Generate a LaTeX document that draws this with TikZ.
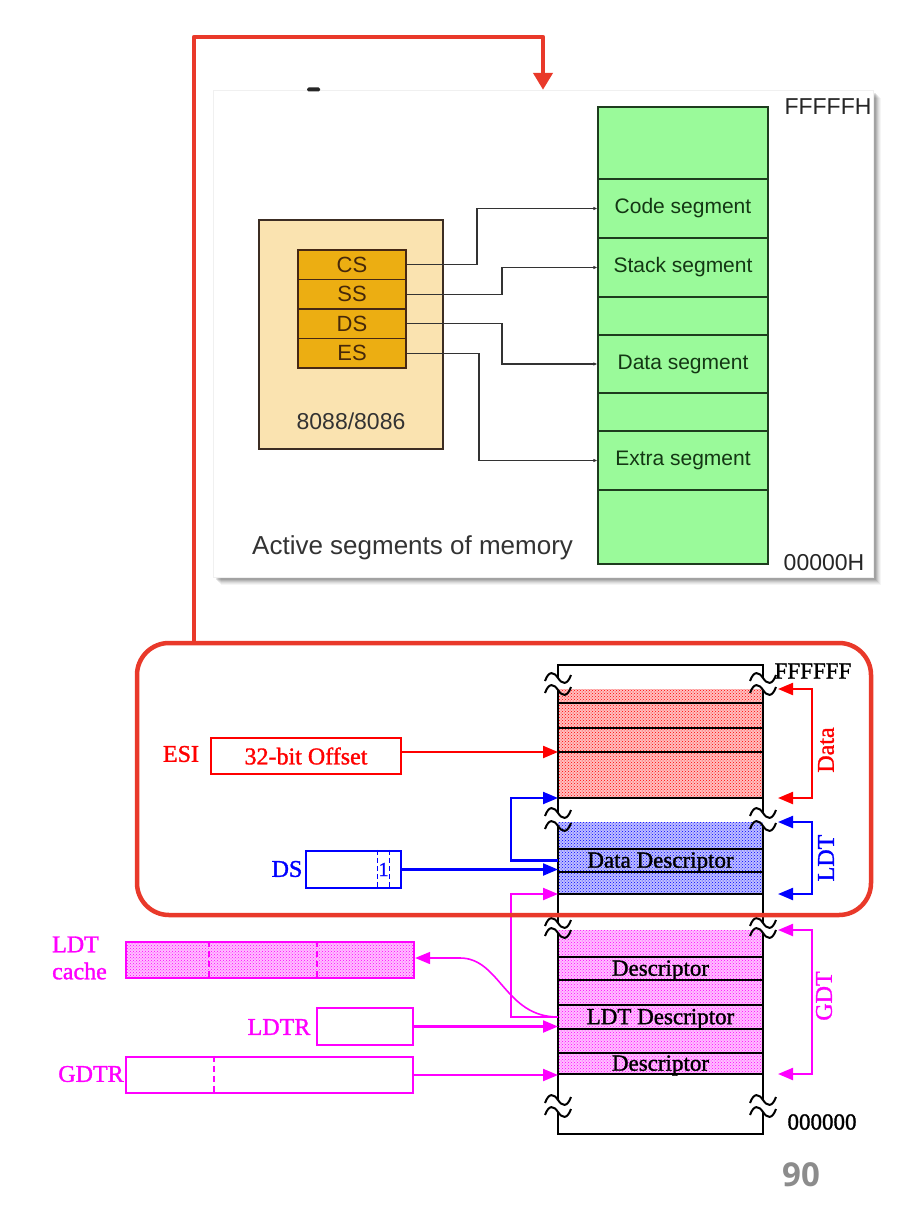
\documentclass[tikz,border=0pt]{standalone}
\usepackage{fontspec}
\setmainfont{Liberation Serif}[FakeBold=1.3]
\newfontfamily\arialf{Liberation Sans}
\newfontfamily\pagenumf{Open Sans}
\usetikzlibrary{arrows.meta,patterns,calc}
\definecolor{redA}{RGB}{233,57,42}
\definecolor{tanfill}{RGB}{250,227,176}
\definecolor{cpuborder}{RGB}{60,45,35}
\definecolor{regfill}{RGB}{236,174,18}
\definecolor{regborder}{RGB}{70,40,20}
\definecolor{regtext}{RGB}{70,40,10}
\definecolor{greenfill}{RGB}{154,250,154}
\definecolor{memborder}{RGB}{30,60,30}
\definecolor{greentext}{RGB}{20,55,20}
\definecolor{pRed}{RGB}{255,0,0}
\definecolor{pBlue}{RGB}{0,0,255}
\definecolor{pMag}{RGB}{255,0,255}
\tikzset{
  panel/.style={draw=black!6, fill=white, minimum width=660pt, minimum height=487pt, inner sep=0pt},
  cpubox/.style={draw=cpuborder, line width=1.2pt, fill=tanfill, minimum width=184pt, minimum height=229pt, inner sep=0pt},
  regbox/.style={draw=regborder, line width=1.3pt, fill=regfill, minimum width=108pt, minimum height=29.5pt, inner sep=0pt, text=regtext, font=\arialf\fontsize{22}{22}\selectfont},
  cputxt/.style={inner sep=0pt, text=black!80, font=\arialf\fontsize{23}{23}\selectfont},
  memg/.style={draw=memborder, line width=1.2pt, fill=greenfill, minimum width=170pt, inner sep=0pt, text=greentext, font=\arialf\fontsize{21}{21}\selectfont},
  segarrow/.style={draw=black!80, line width=1.1pt, -{Latex[length=4pt,width=3.5pt]}},
  toplbl/.style={text=black!85, font=\arialf\fontsize{23}{23}\selectfont, inner sep=0pt},
  captxt/.style={text=black!80, font=\arialf\fontsize{26}{26}\selectfont, inner sep=0pt},
  redconn/.style={draw=redA, line width=4.5pt, line join=round, -{Triangle[length=17pt,width=19pt]}},
  redframe/.style={draw=redA, line width=4.5pt, rounded corners=32pt, minimum width=734pt, minimum height=272pt, inner sep=0pt},
  memrow/.style={minimum width=205pt, inner sep=0pt, outer sep=0pt},
  redfill/.style={fill=pRed!25, postaction={pattern=crosshatch dots, pattern color=pRed}},
  bluefill/.style={fill=pBlue!25, postaction={pattern=crosshatch dots, pattern color=pBlue}},
  magfill/.style={fill=pMag!25, postaction={pattern=crosshatch dots, pattern color=pMag}},
  rowline/.style={draw=black, line width=2pt},
  colline/.style={draw=black, line width=2.4pt},
  memtxt/.style={inner sep=0pt, yshift=-2pt, font=\fontsize{23}{23}\selectfont},
  memlbl/.style={inner sep=0pt, font=\fontsize{23}{23}\selectfont},
  redlbl/.style={inner sep=0pt, text=pRed, font=\fontsize{24}{27}\selectfont},
  bluelbl/.style={inner sep=0pt, text=pBlue, font=\fontsize{24}{27}\selectfont},
  maglbl/.style={inner sep=0pt, text=pMag, font=\fontsize{24}{27}\selectfont},
  redbox/.style={draw=pRed, line width=2.2pt, inner sep=0pt, text=pRed, font=\fontsize{24}{24}\selectfont},
  bluebox/.style={draw=pBlue, line width=2.2pt, inner sep=0pt},
  magbox/.style={draw=pMag, line width=2.2pt, inner sep=0pt},
  redline/.style={draw=pRed, line width=2.2pt},
  blueline/.style={draw=pBlue, line width=2.2pt},
  magline/.style={draw=pMag, line width=2.2pt},
  tipR/.style={-{Triangle[length=15pt,width=12pt]}},
  tipLR/.style={{Triangle[length=15pt,width=12pt]}-{Triangle[length=15pt,width=12pt]}},
  brk/.pic={\draw[line width=2pt] (-13,3) .. controls (-9,-8) and (-4,-6) .. (0,0) .. controls (4,6) and (9,8) .. (13,-3);}
}
\begin{document}
\begin{tikzpicture}[x=1pt,y=-1pt]
\fill[white] (0,0) rectangle (912,1214);
\useasboundingbox (0,0) rectangle (912,1214);

% ---------- top panel ----------
\foreach \o/\a in {8/0.04,7/0.05,6/0.06,5/0.08,4/0.09,3/0.1} {\fill[black,opacity=\a] (213+\o,90+\o) rectangle (873+\o,577+\o);}
\node[panel] (panel) at (543,333.5) {};
\fill[black!85,rounded corners=1.5pt] (307,87.5) rectangle (320,91.5);

\node[cpubox] (cpu) at (351,334.5) {};
\node[regbox] (cs) at (352,264.75) {CS};
\node[regbox] (ss) at (352,294.25) {SS};
\node[regbox] (ds) at (352,323.75) {DS};
\node[regbox] (es) at (352,353.25) {ES};
\node[cputxt] (cpulbl) at (351,421) {8088/8086};

\node[memg, minimum height=72pt] (m0) at (683,143) {};
\node[memg, minimum height=59pt] (code) at (683,208.5) {Code segment};
\node[memg, minimum height=59pt] (stack) at (683,267.5) {Stack segment};
\node[memg, minimum height=38pt] (m3) at (683,316) {};
\node[memg, minimum height=58pt] (dataseg) at (683,364) {Data segment};
\node[memg, minimum height=38pt] (m5) at (683,412) {};
\node[memg, minimum height=59pt] (extra) at (683,460.5) {Extra segment};
\node[memg, minimum height=74pt] (m7) at (683,527) {};

\draw[segarrow] (cs.east) -- (477,264.75) |- (code.west);
\draw[segarrow] (ss.east) -- (502,294.25) |- (stack.west);
\draw[segarrow] (ds.east) -- (502,323.75) |- (dataseg.west);
\draw[segarrow] (es.east) -- (479,353.25) |- (extra.west);

\node[toplbl] (ftop) at (828,107) {FFFFFH};
\node[toplbl] (fbot) at (824,563) {00000H};
\node[captxt, anchor=west] (cap) at (252,548) {Active segments of memory};

% ---------- red connector ----------
\coordinate (rstart) at (194,643);
\coordinate (rturn) at (194,37);
\draw[redconn] (rstart) -- (rturn) -| (panel.north);

% ---------- bottom memory column ----------
\node[memrow, redfill, minimum height=14pt] (r1) at (660.5,696) {};
\node[memrow, redfill, minimum height=25pt] (r2) at (660.5,715.5) {};
\node[memrow, redfill, minimum height=24pt] (r3) at (660.5,740) {};
\node[memrow, redfill, minimum height=46pt] (r4) at (660.5,775) {};
\node[memrow, bluefill, minimum height=27pt] (b1) at (660.5,835.5) {};
\node[memrow, bluefill, minimum height=23pt] (b2) at (660.5,860.5) {};
\node[memrow, bluefill, minimum height=22pt] (b3) at (660.5,883) {};
\node[memrow, magfill, minimum height=27pt] (g1) at (660.5,943.5) {};
\node[memrow, magfill, minimum height=23pt] (g2) at (660.5,968.5) {};
\node[memrow, magfill, minimum height=25pt] (g3) at (660.5,992.5) {};
\node[memrow, magfill, minimum height=24pt] (g4) at (660.5,1017) {};
\node[memrow, magfill, minimum height=24pt] (g5) at (660.5,1041) {};
\node[memrow, magfill, minimum height=21pt] (g6) at (660.5,1063.5) {};

\foreach \n in {r1,r2,r3,r4,b1,b2,b3,g1,g2,g3,g4,g5,g6} {\draw[rowline] (\n.south west) -- (\n.south east);}

\coordinate (ctl) at (558,665);
\coordinate (ctr) at (763,665);
\coordinate (cbl) at (558,1134);
\coordinate (cbr) at (763,1134);
\draw[colline] (ctl) -- (ctr);
\draw[colline] (cbl) -- (cbr);
\foreach \x in {558,763} {
  \draw[colline] (\x,664) -- (\x,678) (\x,690) -- (\x,813) (\x,826) -- (\x,923) (\x,933) -- (\x,1100) (\x,1112) -- (\x,1135);
  \foreach \y in {678,690,813,826,923,933,1100,1112} {\pic at (\x,\y) {brk};}
}

\node[memtxt] (tdd) at (b2.center) {Data Descriptor};
\node[memtxt] (td1) at (g2.center) {Descriptor};
\node[memtxt] (tldt) at (g4.center) {LDT Descriptor};
\node[memtxt] (td2) at (g6.center) {Descriptor};

\node[memlbl] (fff) at (813,671) {FFFFFF};
\node[memlbl] (zzz) at (822,1122) {000000};

% brackets
\draw[redline, tipLR] ($(r1.north east)+(15,0)$) -- ++(34,0) |- ($(r4.south east)+(15,0)$);
\draw[blueline, tipLR] ($(b1.north east)+(15,0)$) -- ++(34,0) |- ($(b3.south east)+(15,0)$);
\draw[magline, tipLR] ($(g1.north east)+(15,0)$) -- ++(34,0) |- ($(g6.south east)+(15,0)$);
\node[redlbl, rotate=90] (datalbl) at (826,750) {Data};
\node[bluelbl, rotate=90] (ldtlbl) at (826,858) {LDT};
\node[maglbl, rotate=90] (gdtlbl) at (824,996) {GDT};

% ---------- left side ----------
\node[redlbl] (esilbl) at (181,754) {ESI};
\node[redbox, minimum width=190pt, minimum height=36pt] (esi) at (306,756) {32-bit Offset};
\draw[redline, tipR] (esi.east |- r4.north west) -- (r4.north west);

\node[bluelbl] (dslbl) at (287,869) {DS};
\node[bluebox, minimum width=95pt, minimum height=37pt] (dsreg) at (353.5,869.5) {};
\draw[pBlue, line width=1.5pt, dash pattern=on 5pt off 3pt] ($(dsreg.north east)+(-24.5,0)$) -- ($(dsreg.south east)+(-24.5,0)$);
\draw[pBlue, line width=1.5pt, dash pattern=on 5pt off 3pt] ($(dsreg.north east)+(-12.5,0)$) -- ($(dsreg.south east)+(-12.5,0)$);
\node[inner sep=0pt, text=pBlue, font=\fontsize{20}{20}\selectfont] (tibit) at ($(dsreg.east)+(-18.5,0)$) {1};
\draw[blueline, tipR] (dsreg.east) -- (dsreg.east -| b2.west);
\draw[blueline, tipR] (b2.west) -- ++(-47,0) |- (r4.south west);

\node[maglbl, anchor=west, align=left] (cachelbl) at (52,958) {LDT\\cache};
\node[magbox, magfill, minimum width=288pt, minimum height=36pt] (ldtc) at (270,960) {};
\draw[pMag, line width=1.5pt, dash pattern=on 6pt off 4pt] ($(ldtc.north west)+(84,0)$) -- ($(ldtc.south west)+(84,0)$);
\draw[pMag, line width=1.5pt, dash pattern=on 6pt off 4pt] ($(ldtc.north west)+(192,0)$) -- ($(ldtc.south west)+(192,0)$);

\node[maglbl] (ldtrlbl) at (279,1027) {LDTR};
\node[magbox, minimum width=96pt, minimum height=37pt] (ldtr) at (365,1026.5) {};
\node[maglbl] (gdtrlbl) at (91,1074) {GDTR};
\node[magbox, minimum width=287pt, minimum height=36pt] (gdtr) at (269.5,1075) {};
\draw[pMag, line width=1.5pt, dash pattern=on 6pt off 4pt] ($(gdtr.north west)+(89,0)$) -- ($(gdtr.south west)+(89,0)$);

\draw[magline, tipR] (ldtr.east) -- (ldtr.east -| g4.west);
\draw[magline, tipR] (gdtr.east) -- (gdtr.east -| g6.west);
\draw[magline, tipR] (g4.west) -- ++(-47,0) |- (b3.south west);
\draw[magline, line width=1.6pt, tipR] (g4.west) .. controls +(-53,0) and +(40,0) .. (460,958) -- (ldtc.east |- 0,958);

% ---------- red frame ----------
\node[redframe] (frame) at (504,779) {};

\node[inner sep=0pt, text=black!45, font=\pagenumf\bfseries\fontsize{33}{33}\selectfont] (pnum) at (801,1175) {90};
\end{tikzpicture}
\end{document}
